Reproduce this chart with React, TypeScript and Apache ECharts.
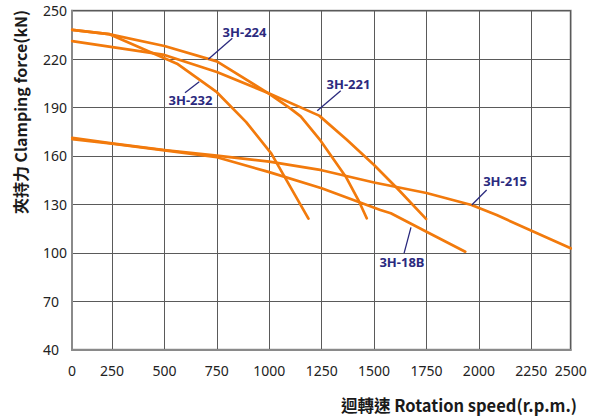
import React, { useEffect, useRef } from 'react';
import * as echarts from 'echarts';

// Axis ticks (the reference's outer ticks sit at the plot edges)
const xTickValues = [59, 250, 500, 750, 1000, 1250, 1500, 1750, 2000, 2250, 2438];
const xTickLabels = ['0', '250', '500', '750', '1000', '1250', '1500', '1750', '2000', '2250', '2500'];
const yTickValues = [40, 70, 100, 130, 160, 190, 220, 250];

// Series (rotation speed r.p.m. -> clamping force kN)
const rpm224 = [60, 235, 500, 750, 1000, 1100, 1150, 1245, 1365, 1425, 1465];
const force224 = [238.1, 235.5, 228.1, 218.6, 198.5, 189.5, 184.5, 169.5, 147.2, 132.7, 121.4];

const rpm232 = [60, 235, 500, 560, 750, 890, 1010, 1187];
const force232 = [238.1, 235.5, 220.5, 217.2, 199.5, 181, 161.5, 121.2];

const rpm221 = [60, 500, 750, 1000, 1238, 1370, 1500, 1610, 1748];
const force221 = [231.2, 222.6, 212, 198.7, 185, 170, 154.4, 140, 121];

const rpm215 = [60, 250, 500, 750, 1000, 1250, 1500, 1750, 1965, 2085, 2438];
const force215 = [171.3, 167.8, 163.7, 160.2, 156.5, 151.2, 143.6, 137.1, 129.6, 123.4, 102.8];

const rpm18B = [60, 250, 500, 750, 1000, 1250, 1530, 1580, 1750, 1935];
const force18B = [170.5, 167.6, 163.5, 159.2, 150, 140, 126.5, 124.5, 113.1, 100.7];

const seriesNames = ['3H-224', '3H-232', '3H-221', '3H-215', '3H-18B'];
const seriesRpm = [rpm224, rpm232, rpm221, rpm215, rpm18B];
const seriesForce = [force224, force232, force221, force215, force18B];

// Callout annotations in data coordinates: text anchor, leader start, leader end
const calloutText = [[882, 236.8], [624, 194.7], [1378, 204.6], [2125, 144.5], [1633, 94.6]];
const calloutFrom = [[824, 232.9], [598, 199.2], [1341, 200.4], [2037, 138.9], [1643, 99.7]];
const calloutTo = [[709, 219.9], [666, 206], [1229, 188], [1966, 129.6], [1676, 115.8]];

const ORANGE = '#F27A0C';
const NAVY = '#2B2A7E';
const FONT = '"Noto Sans", "Noto Sans CJK TC", sans-serif';
const TITLE_FONT = '"Noto Sans CJK TC", "Noto Sans", sans-serif';

export default function App() {
  const ref = useRef<HTMLDivElement>(null);

  useEffect(() => {
    if (!ref.current) return;
    const chart = echarts.init(ref.current, null, { renderer: 'svg' });

    const series = seriesNames.map((name, i) => ({
      name,
      type: 'line',
      data: seriesRpm[i].map((x, j) => [x, seriesForce[i][j]]),
      showSymbol: false,
      symbol: 'none',
      clip: true,
      lineStyle: { color: ORANGE, width: 2.7, join: 'round', cap: 'round' },
      itemStyle: { color: ORANGE },
      z: 3,
      markLine: {
        silent: true,
        symbol: ['none', 'none'],
        label: { show: false },
        lineStyle: { color: NAVY, width: 1.3, type: 'solid' },
        data: [[{ coord: calloutFrom[i] }, { coord: calloutTo[i] }]],
      },
      markPoint: {
        silent: true,
        symbol: 'circle',
        symbolSize: 1,
        itemStyle: { color: 'rgba(0,0,0,0)' },
        label: {
          show: true,
          position: 'inside',
          formatter: name,
          color: NAVY,
          fontSize: 13,
          fontWeight: 'bold',
          fontFamily: FONT,
        },
        data: [{ coord: calloutText[i], name }],
      },
    }));

    chart.setOption({
      animation: false,
      backgroundColor: '#ffffff',
      grid: {
        left: 72,
        right: 37.3,
        top: 10.7,
        bottom: 69.3,
        show: true,
        borderColor: '#8f8f8f',
        borderWidth: 2,
        backgroundColor: 'transparent',
      },
      xAxis: {
        type: 'value',
        min: 59,
        max: 2438,
        axisLine: { show: true, lineStyle: { color: '#8a8a8a', width: 2 } },
        axisTick: { show: false, customValues: xTickValues },
        axisLabel: {
          customValues: xTickValues,
          formatter: (v: number) => {
            const idx = xTickValues.findIndex((t) => Math.abs(t - v) < 0.5);
            return idx >= 0 ? xTickLabels[idx] : '';
          },
          color: '#222',
          fontSize: 14,
          fontFamily: FONT,
          margin: 14,
        },
        splitLine: { show: true, lineStyle: { color: '#5a5a5a', width: 1 } },
      },
      yAxis: {
        type: 'value',
        min: 40,
        max: 250,
        axisLine: { show: true, lineStyle: { color: '#8a8a8a', width: 2 } },
        axisTick: { show: false, customValues: yTickValues },
        axisLabel: {
          customValues: yTickValues,
          color: '#222',
          fontSize: 14,
          fontFamily: FONT,
          align: 'left',
          margin: 29,
        },
        splitLine: { show: true, lineStyle: { color: '#5a5a5a', width: 1 } },
      },
      graphic: [
        {
          type: 'text',
          x: 577,
          y: 405,
          style: {
            text: '迴轉速 Rotation speed(r.p.m.)',
            fill: '#1a1a1a',
            fontSize: 16.5,
            fontWeight: 'bold',
            fontFamily: TITLE_FONT,
            align: 'right',
            verticalAlign: 'middle',
          },
        },
        {
          type: 'text',
          x: 20,
          y: 112,
          rotation: Math.PI / 2,
          style: {
            text: '夾持力 Clamping force(kN)',
            fill: '#1a1a1a',
            fontSize: 16,
            fontWeight: 'bold',
            fontFamily: TITLE_FONT,
            align: 'center',
            verticalAlign: 'middle',
          },
        },
      ],
      series,
    });

    return () => chart.dispose();
  }, []);

  return (
    <div
      ref={ref}
      style={{ position: 'fixed', left: 0, top: 0, width: 608, height: 419, background: '#fff' }}
    />
  );
}
